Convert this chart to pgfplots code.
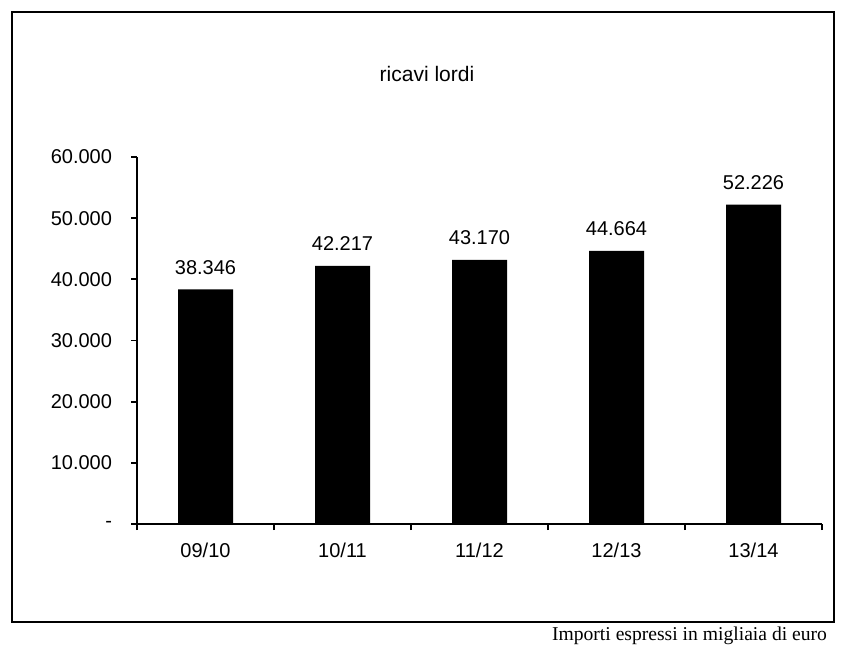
\documentclass[border=0pt]{standalone}
\usepackage{pgfplots}
\pgfplotsset{compat=1.18}
\usepackage{fontspec}
\setmainfont{Liberation Sans}
\newfontfamily\serif{Liberation Serif}
\begin{document}
\begin{tikzpicture}
\useasboundingbox (0,0) rectangle (422pt,322pt);
% outer frame
\draw[line width=0.8pt] (6pt,11pt) rectangle (417pt,316pt);
\node[font=\fontsize{10.5}{12}\selectfont] at (213.5pt,285pt) {ricavi lordi};
\node[font=\serif\fontsize{9.8}{11}\selectfont, anchor=base east] at (417pt,2pt) {Importi espressi in migliaia di euro};
\begin{axis}[
    at={(68.5pt,60pt)}, anchor=south west,
    scale only axis,
    width=342.5pt, height=183.5pt,
    axis lines*=left,
    axis line style={line width=0.9pt},
    xmin=-0.5, xmax=4.5,
    ymin=0, ymax=60000,
    scaled y ticks=false,
    xtick={-0.5,0.5,...,4.5},
    xticklabels={},
    extra x ticks={0,1,2,3,4},
    extra x tick labels={09/10,10/11,11/12,12/13,13/14},
    extra x tick style={major tick length=0pt},
    ytick={0,10000,...,60000},
    yticklabels={-\hspace{5pt},10.000,20.000,30.000,40.000,50.000,60.000},
    tick align=outside,
    major tick length=3pt,
    tick style={line width=0.9pt, black},
    ticklabel style={font=\fontsize{10}{12}\selectfont},
    xticklabel style={yshift=-6pt},
    yticklabel style={xshift=-6pt},
    /pgf/number format/assume math mode=true,
    ybar,
    bar width=27.5pt,
    nodes near coords,
    point meta=explicit symbolic,
    every node near coord/.append style={font=\fontsize{10}{12}\selectfont, yshift=4pt},
    clip=false,
]
\addplot[fill=black, draw=none] coordinates {
    (0,38346) [38.346]
    (1,42217) [42.217]
    (2,43170) [43.170]
    (3,44664) [44.664]
    (4,52226) [52.226]
};
\end{axis}
\end{tikzpicture}
\end{document}
